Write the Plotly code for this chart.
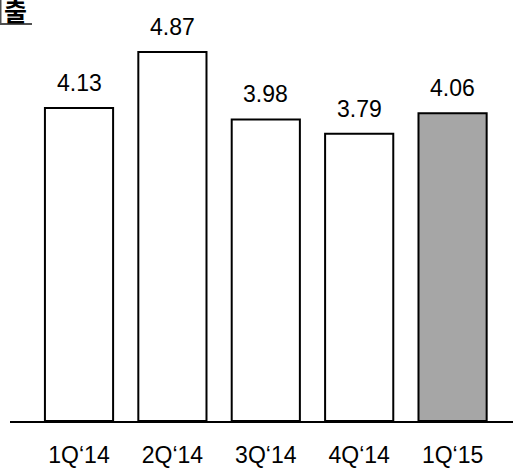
import plotly.graph_objects as go

categories = ["1Q‘14", "2Q‘14", "3Q‘14", "4Q‘14", "1Q‘15"]
values = [4.13, 4.87, 3.98, 3.79, 4.06]
value_labels = ["4.13", "4.87", "3.98", "3.79", "4.06"]
bar_colors = ["#ffffff", "#ffffff", "#ffffff", "#ffffff", "#a6a6a6"]
title_text = "출"

FONT = "Liberation Sans, Arial, sans-serif"

fig = go.Figure()
fig.add_trace(go.Bar(
    x=list(range(len(categories))),
    y=values,
    width=0.73,
    marker=dict(color=bar_colors, line=dict(color="#000000", width=2)),
    hoverinfo="skip",
))

for i, (v, t) in enumerate(zip(values, value_labels)):
    fig.add_annotation(
        x=i, y=v, text=t, showarrow=False, xanchor="center", yanchor="bottom",
        yshift=10, font=dict(family=FONT, size=23, color="#000000"),
    )

fig.add_annotation(
    xref="paper", yref="paper", x=-0.016, y=1.0, xanchor="left", yanchor="top",
    text="<b>" + title_text + "</b>", showarrow=False, yshift=10,
    font=dict(family="Noto Sans CJK KR", size=25, color="#000000"),
)
# underline and cut-off edge of the title
fig.add_shape(type="line", xref="paper", yref="paper",
              x0=-0.0199, x1=0.0437, y0=0.943, y1=0.943,
              line=dict(color="#505050", width=2))
fig.add_shape(type="line", xref="paper", yref="paper",
              x0=-0.0189, x1=-0.0189, y0=0.943, y1=1.0,
              line=dict(color="#505050", width=2))

fig.update_layout(
    width=513, height=472,
    margin=dict(l=10, r=0, t=0, b=51),
    paper_bgcolor="#ffffff", plot_bgcolor="#ffffff",
    showlegend=False,
    xaxis=dict(
        range=[-0.739, 4.647],
        tickmode="array", tickvals=list(range(len(categories))), ticktext=categories,
        showgrid=False, zeroline=False, showline=True, linecolor="#000000", linewidth=2,
        ticks="", tickfont=dict(family=FONT, size=23, color="#000000"),
        ticklabelstandoff=12,
    ),
    yaxis=dict(range=[0, 5.556], visible=False, showgrid=False, zeroline=False),
)

fig.write_html("out.html", config={"displayModeBar": False},
               post_script="document.body.style.margin='0';document.body.style.overflow='hidden';")
